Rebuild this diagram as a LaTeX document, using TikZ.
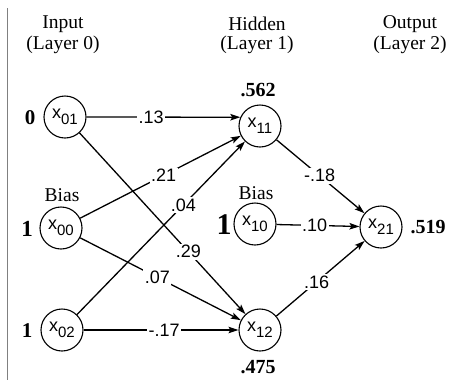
\documentclass[tikz,border=0pt]{standalone}
\usepackage{fontspec}
\setmainfont{Liberation Serif}
\newfontfamily\lsans{Liberation Sans}
\usetikzlibrary{arrows.meta}
% unit label: x with a two-digit index
\newcommand{\unitx}[1]{{\lsans\fontsize{18}{18}\selectfont x\raisebox{-6pt}{\fontsize{15}{15}\selectfont #1}}}

\begin{document}
\begin{tikzpicture}[x=1pt,y=-1pt,
  unit/.style={circle,draw,line width=1.1pt,minimum size=42pt,inner sep=0pt},
  wt/.style={fill=white,inner sep=1.5pt,font=\lsans\fontsize{18}{18}\selectfont},
  conn/.style={line width=1.3pt,-{Stealth[length=10pt,width=6.5pt,inset=2pt]}},
  hdr/.style={font=\fontsize{19.5}{19.5}\selectfont},
  act/.style={font=\bfseries\fontsize{20}{20}\selectfont,inner sep=0pt}
]
\useasboundingbox (0,0) rectangle (461,384);
\fill[white] (0,0) rectangle (461,384);
\draw[gray,line width=0.8pt] (7,8) -- (7,380);

% layer headings
\node[hdr] (h0) at (63,24) {Input};
\node[hdr] (h0l) at (63,45) {(Layer 0)};
\node[hdr] (h1) at (257,24) {Hidden};
\node[hdr] (h1l) at (257,45) {(Layer 1)};
\node[hdr] (h2) at (410,24) {Output};
\node[hdr] (h2l) at (410,45) {(Layer 2)};

% units
\node[unit] (x01) at (65,117) {\unitx{01}};
\node[unit] (x00) at (61,228) {\unitx{00}};
\node[unit] (x02) at (62,330) {\unitx{02}};
\node[unit] (x11) at (260,126) {\unitx{11}};
\node[unit] (x10) at (255,224) {\unitx{10}};
\node[unit] (x12) at (260,330) {\unitx{12}};
\node[unit] (x21) at (381,227) {\unitx{21}};

% bias captions
\node[hdr] (b0) at (62,195) {Bias};
\node[hdr] (b1) at (256,193) {Bias};

% inputs and activations
\node[act,font=\bfseries\fontsize{21}{21}\selectfont] (v01) at (30,118) {0};
\node[act,font=\bfseries\fontsize{23}{23}\selectfont] (v00) at (27,229) {1};
\node[act,font=\bfseries\fontsize{21}{21}\selectfont] (v02) at (27,331) {1};
\node[act,font=\bfseries\fontsize{30}{30}\selectfont] (v10) at (224,225) {1};
\node[act] (v11) at (258,90) {.562};
\node[act] (v12) at (258,367) {.475};
\node[act] (v21) at (428,227) {.519};

% weighted connections, input to hidden
\draw[conn] (x01.east) -- node[wt,pos=0.42] (w13) {.13} (x11.156);
\draw[conn] (x01) -- node[wt,pos=0.656] (w29) {.29} (x12);
\draw[conn] (x00) -- node[wt,pos=0.52] (w21) {.21} (x11);
\draw[conn] (x00) -- node[wt,pos=0.48] (w07) {.07} (x12);
\draw[conn] (x02) -- node[wt,pos=0.633] (w04) {.04} (x11);
\draw[conn] (x02) -- node[wt,pos=0.52] (w17) {-.17} (x12);

% hidden to output
\draw[conn] (x11) -- node[wt,pos=0.49] (w18) {-.18} (x21);
\draw[conn] (x10) -- node[wt,pos=0.46] (w10) {.10} (x21);
\draw[conn] (x12) -- node[wt,pos=0.456] (w16) {.16} (x21);
\end{tikzpicture}
\end{document}
